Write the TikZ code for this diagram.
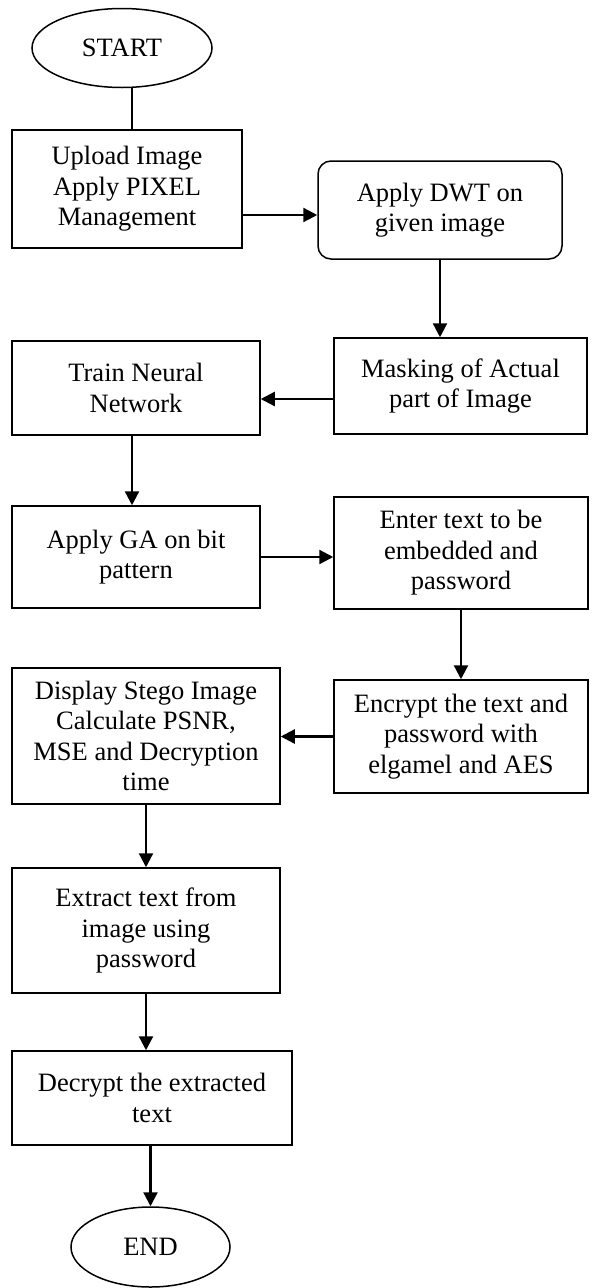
\documentclass[tikz,border=0pt]{standalone}
\usepackage{fontspec}
\setmainfont{Liberation Serif}
\usetikzlibrary{shapes.geometric,arrows.meta,calc}
\begin{document}
\begin{tikzpicture}[x=1pt,y=-1pt,
  box/.style={draw,line width=1.5pt,rectangle,inner sep=0pt,align=center,font=\fontsize{26.5}{30.5}\selectfont},
  oval/.style={draw,line width=1.5pt,ellipse,inner sep=0pt,font=\fontsize{26.5}{30.5}\selectfont},
  arr/.style={line width=2.3pt,-{Triangle[length=14pt,width=14pt]}},
  ln/.style={line width=2.3pt}]
\useasboundingbox (0,0) rectangle (593,1288);
\node[oval,minimum width=180pt,minimum height=79pt] (start) at (122,48) {START};
\node[box,minimum width=230pt,minimum height=118pt] (upload) at (127,189) {Upload Image\\Apply PIXEL\\Management};
\node[box,rounded corners=13pt,minimum width=244pt,minimum height=98pt] (dwt) at (440,210) {Apply DWT on\\given image};
\node[box,minimum width=253pt,minimum height=96pt] (mask) at (460.5,386) {Masking of Actual\\part of Image};
\node[box,minimum width=248pt,minimum height=94pt] (train) at (136,388) {Train Neural\\Network};
\node[box,minimum width=248pt,minimum height=102pt] (ga) at (136,557) {Apply GA on bit\\pattern};
\node[box,minimum width=254pt,minimum height=112pt] (enter) at (461,553) {Enter text to be\\embedded and\\password};
\node[box,minimum width=254pt,minimum height=113pt] (encrypt) at (461,736.5) {Encrypt the text and\\password with\\elgamel and AES};
\node[box,minimum width=268pt,minimum height=136pt] (display) at (146,736) {Display Stego Image\\Calculate PSNR,\\MSE and Decryption\\time};
\node[box,minimum width=268pt,minimum height=125pt] (extract) at (146,930.5) {Extract text from\\image using\\password};
\node[box,minimum width=280pt,minimum height=94pt] (decrypt) at (152,1098) {Decrypt the extracted\\text};
\node[oval,minimum width=159pt,minimum height=80pt] (end) at (150.5,1247) {END};

\draw[ln] ([xshift=5pt]upload.north) -- ([xshift=5pt]upload.north |- start.south);
\draw[arr] ([yshift=-5pt]dwt.west -| upload.east) -- ([yshift=-5pt]dwt.west);
\draw[arr] (dwt.south) -- (dwt.south |- mask.north);
\draw[arr] ([yshift=-13pt]mask.west) -- ([yshift=-13pt]mask.west -| train.east);
\draw[arr] ([xshift=-4pt]train.south) -- ([xshift=-4pt]ga.north);
\draw[arr] (ga.east) -- (ga.east -| enter.west);
\draw[arr] (enter.south) -- (enter.south |- encrypt.north);
\draw[arr] (encrypt.west) -- (encrypt.west -| display.east);
\draw[arr] (display.south) -- (extract.north);
\draw[arr] (extract.south) -- (extract.south |- decrypt.north);
\draw[arr] (decrypt.south -| end.north) -- (end.north);
\end{tikzpicture}
\end{document}
